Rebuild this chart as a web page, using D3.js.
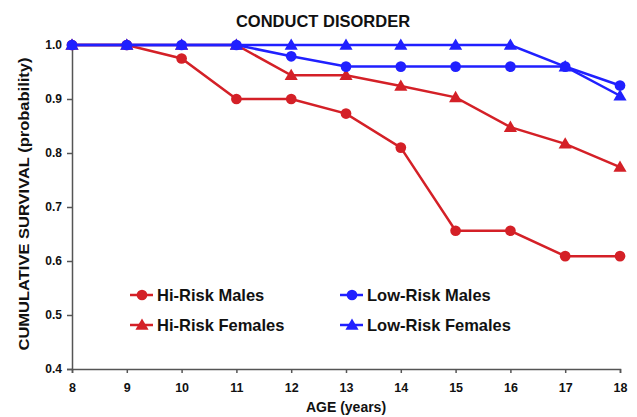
<!DOCTYPE html>
<html>
<head>
<meta charset="utf-8">
<script src="https://cdn.jsdelivr.net/npm/d3@7"></script>
<style>
  body { margin: 0; background: #fff; }
  svg text { font-family: "Liberation Sans", Arial, sans-serif; font-weight: bold; fill: #111; }
</style>
</head>
<body>
<div id="chart"></div>
<script>
// ages and survival values
var ages = [8, 9, 10, 11, 12, 13, 14, 15, 16, 17, 18];
var hiRiskMales = [1.0, 1.0, 0.975, 0.90, 0.90, 0.873, 0.81, 0.656, 0.656, 0.609, 0.609];
var hiRiskFemales = [1.0, 1.0, 1.0, 1.0, 0.944, 0.944, 0.924, 0.903, 0.848, 0.817, 0.774];
var lowRiskMales = [1.0, 1.0, 1.0, 1.0, 0.979, 0.96, 0.96, 0.96, 0.96, 0.96, 0.925];
var lowRiskFemales = [1.0, 1.0, 1.0, 1.0, 1.0, 1.0, 1.0, 1.0, 1.0, 0.96, 0.906];
var yTicks = [0.4, 0.5, 0.6, 0.7, 0.8, 0.9, 1.0];

var RED = '#d42027', BLUE = '#2020ff';
var series = [
  { name: 'Hi-Risk Males', values: hiRiskMales, color: RED, shape: 'circle' },
  { name: 'Hi-Risk Females', values: hiRiskFemales, color: RED, shape: 'triangle' },
  { name: 'Low-Risk Males', values: lowRiskMales, color: BLUE, shape: 'circle' },
  { name: 'Low-Risk Females', values: lowRiskFemales, color: BLUE, shape: 'triangle' }
];

var width = 637, height = 417;
var svg = d3.select('#chart').append('svg')
  .attr('width', width).attr('height', height);

var x = d3.scaleLinear().domain([8, 18]).range([72, 620]);
var y = d3.scaleLinear().domain([0.4, 1.0]).range([369, 45]);

// axes
var xAxis = svg.append('g')
  .attr('transform', 'translate(0,369)')
  .call(d3.axisBottom(x).tickValues(ages).tickFormat(d3.format('d')).tickSizeOuter(0).tickSize(4).tickPadding(10));
var yAxis = svg.append('g')
  .attr('transform', 'translate(72,0)')
  .call(d3.axisLeft(y).tickValues(yTicks).tickFormat(d3.format('.1f')).tickSizeOuter(0).tickSize(5).tickPadding(5));
[xAxis, yAxis].forEach(function (g) {
  g.select('.domain').attr('stroke', '#555').attr('stroke-width', 1.5);
  g.selectAll('.tick line').attr('stroke', '#555').attr('stroke-width', 1.5);
  g.selectAll('.tick text').attr('fill', '#111');
});
xAxis.selectAll('.tick text').style('font-size', '12.5px');
yAxis.selectAll('.tick text').style('font-size', '12px');

var symCircle = d3.symbol().type(d3.symbolCircle).size(90);
var symTri = d3.symbol().type(d3.symbolTriangle).size(75);
function sym(shape) { return shape === 'circle' ? symCircle() : symTri(); }

var line = d3.line()
  .x(function (d, i) { return x(ages[i]); })
  .y(function (d) { return y(d); });

series.forEach(function (s) {
  var g = svg.append('g');
  g.append('path')
    .attr('d', line(s.values))
    .attr('fill', 'none')
    .attr('stroke', s.color)
    .attr('stroke-width', 2.5);
  g.selectAll('path.m')
    .data(s.values)
    .enter().append('path')
    .attr('class', 'm')
    .attr('d', sym(s.shape))
    .attr('transform', function (d, i) {
      return 'translate(' + x(ages[i]) + ',' + (y(d) + (s.shape === 'triangle' ? 1 : 0)) + ')';
    })
    .attr('fill', s.color);
});

// legend
var legendPos = [[130, 295], [130, 325], [340, 295], [340, 325]];
series.forEach(function (s, i) {
  var lx = legendPos[i][0], ly = legendPos[i][1];
  var g = svg.append('g').attr('transform', 'translate(' + lx + ',' + ly + ')');
  g.append('line').attr('x1', 0).attr('x2', 23).attr('y1', 0).attr('y2', 0)
    .attr('stroke', s.color).attr('stroke-width', 2.5);
  g.append('path').attr('d', sym(s.shape))
    .attr('transform', 'translate(12,' + (s.shape === 'triangle' ? 1 : 0) + ')')
    .attr('fill', s.color);
  g.append('text').attr('x', 27).attr('y', 6)
    .style('font-size', '16.5px').text(s.name);
});

// titles
svg.append('text').attr('x', 323).attr('y', 27).attr('text-anchor', 'middle')
  .style('font-size', '16.5px').text('CONDUCT DISORDER');
svg.append('text').attr('x', 346).attr('y', 412).attr('text-anchor', 'middle')
  .style('font-size', '14px').text('AGE (years)');
svg.append('text')
  .attr('transform', 'translate(29,204) rotate(-90)')
  .attr('text-anchor', 'middle')
  .attr('textLength', 293)
  .attr('lengthAdjust', 'spacingAndGlyphs')
  .style('font-size', '15.5px').text('CUMULATIVE SURVIVAL (probability)');
</script>
</body>
</html>
